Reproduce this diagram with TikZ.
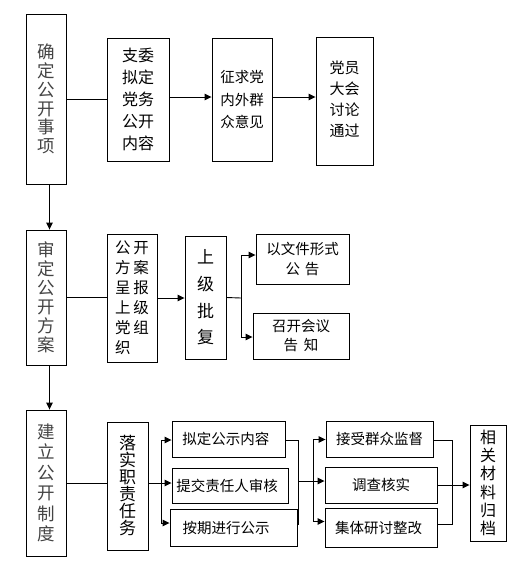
\documentclass[tikz,border=0pt]{standalone}
\usepackage{fontspec}
\setmainfont{Noto Sans CJK SC}
\usetikzlibrary{arrows.meta}
\definecolor{txtgray}{HTML}{444444}
\tikzset{
  box/.style={draw=black, line width=0.9pt, inner sep=0pt, align=center, font=\fontsize{14.5}{20}\selectfont},
  vbox/.style={box, text=txtgray},
  ln/.style={draw=black, line width=0.9pt},
  arr/.style={ln, -{Triangle[length=7pt,width=6.5pt]}}
}
\begin{document}
\begin{tikzpicture}[x=1pt,y=-1pt]
\useasboundingbox (0,0) rectangle (522,566);
% row 1
\node[vbox, minimum width=40, minimum height=170, font=\fontsize{17.5}{18.7}\selectfont] (A) at (46,99) {确\\定\\公\\开\\事\\项};
\node[box, minimum width=62, minimum height=123, font=\fontsize{16}{22}\selectfont] (B) at (138,99.5) {支委\\拟定\\党务\\公开\\内容};
\node[box, minimum width=60, minimum height=123, font=\fontsize{14.5}{22.5}\selectfont] (C) at (242,99.5) {征求党\\内外群\\众意见};
\node[box, minimum width=57, minimum height=128, font=\fontsize{15}{20.5}\selectfont] (D) at (344.5,101) {\raisebox{-4pt}{\begin{tabular}{@{}c@{}}党员\\[0.5pt]大会\\[0.5pt]讨论\\[0.5pt]通过\end{tabular}}};
% row 2
\node[vbox, minimum width=40, minimum height=135, font=\fontsize{17.5}{19}\selectfont] (E) at (46,297.5) {审\\定\\公\\开\\方\\案};
\node[box, minimum width=50, minimum height=128, align=left, font=\fontsize{15.5}{20}\selectfont] (F) at (132,298) {公\hspace{3pt}开\\方\hspace{3pt}案\\呈\hspace{3pt}报\\上\hspace{3pt}级\\党\hspace{3pt}组\\织};
\node[box, minimum width=41, minimum height=123, font=\fontsize{17}{26.7}\selectfont] (G) at (205.5,297.5) {上\\级\\批\\复};
\node[box, minimum width=93, minimum height=50] (H) at (302.5,259) {以文件形式\\公\hspace{5pt}告};
\node[box, minimum width=96, minimum height=46, font=\fontsize{14.5}{19}\selectfont] (I) at (301,336) {召开会议\\告\hspace{6pt}知};
% row 3
\node[vbox, minimum width=40, minimum height=146, font=\fontsize{17.5}{20.5}\selectfont] (J) at (46,483) {建\\立\\公\\开\\制\\度};
\node[box, minimum width=41, minimum height=128, font=\fontsize{17}{17}\selectfont] (K) at (127.5,486) {落\\实\\职\\责\\任\\务};
\node[box, minimum width=113, minimum height=36] (L1) at (228.5,439) {\hbox{拟定公示内容\kern5.4pt}};
\node[box, minimum width=116, minimum height=35] (L2) at (230,485.5) {\hbox{提交责任人审核\kern6pt}};
\node[box, minimum width=127, minimum height=37] (L3) at (233.5,527.5) {\hbox{按期进行公示\kern15pt}};
\node[box, minimum width=107, minimum height=36] (M1) at (379.5,439) {接受群众监督};
\node[box, minimum width=112, minimum height=36] (M2) at (381,485) {调查核实};
\node[box, minimum width=112, minimum height=39] (M3) at (381,527.5) {\hbox{集体研讨整改\kern5pt}};
\node[box, minimum width=36, minimum height=116, font=\fontsize{16}{18.2}\selectfont] (N) at (488,483) {相\\关\\材\\料\\归\\档};
% connectors row 1
\draw[ln] (A.east) -- (A.east -| B.west);
\draw[arr] ([yshift=2.5pt]B.east) -- ([yshift=2.5pt]B.east -| C.west);
\draw[arr] ([yshift=2.5pt]C.east) -- ([yshift=2.5pt]C.east -| D.west);
\draw[arr] ([xshift=3.5pt]A.south) -- ([xshift=3.5pt]E.north);
% connectors row 2
\draw[ln] (E.east) -- (E.east -| F.west);
\draw[arr] (F.east) -- (F.east -| G.west);
\coordinate (gf) at (241,298);
\coordinate (gt) at (241,255);
\coordinate (gb) at (241,337);
\draw[ln] (G.east) -- (gf);
\draw[ln] (gt) -- (gb);
\draw[arr] (gt) -- (gt -| H.west);
\draw[arr] (gb) -- (gb -| I.west);
\draw[arr] ([xshift=3.5pt]E.south) -- ([xshift=3.5pt]J.north);
% connectors row 3
\draw[ln] (J.east) -- (J.east -| K.west);
\coordinate (kf) at (161,483);
\coordinate (kt) at (161,440);
\coordinate (kb) at (161,523);
\draw[ln] (K.east |- kf) -- (kf);
\draw[ln] (kt) -- (kb);
\draw[arr] (kt) -- (kt -| L1.west);
\draw[arr] (kf) -- (kf -| L2.west);
\draw[arr] (kb) -- (kb -| L3.west);
\coordinate (lt) at (298,440.5);
\coordinate (lb) at (298,524);
\coordinate (lm) at (298,481);
\coordinate (mm) at (313,481);
\coordinate (mt) at (313,439.5);
\coordinate (mb) at (313,521.5);
\draw[ln] (lt -| L1.east) -- (lt) -- (lb) -- (lb -| L3.east);
\draw[ln] (lm) -- (mm);
\draw[ln] (mt) -- (mb);
\draw[arr] (mt) -- (mt -| M1.west);
\draw[arr] (mm) -- (mm -| M2.west);
\draw[arr] (mb) -- (mb -| M3.west);
\coordinate (nt) at (452.5,440);
\coordinate (nb) at (452.5,524);
\draw[ln] (nt -| M1.east) -- (nt) -- (nb) -- (nb -| M3.east);
\draw[arr] (M2.east) -- (M2.east -| N.west);
\end{tikzpicture}
\end{document}
